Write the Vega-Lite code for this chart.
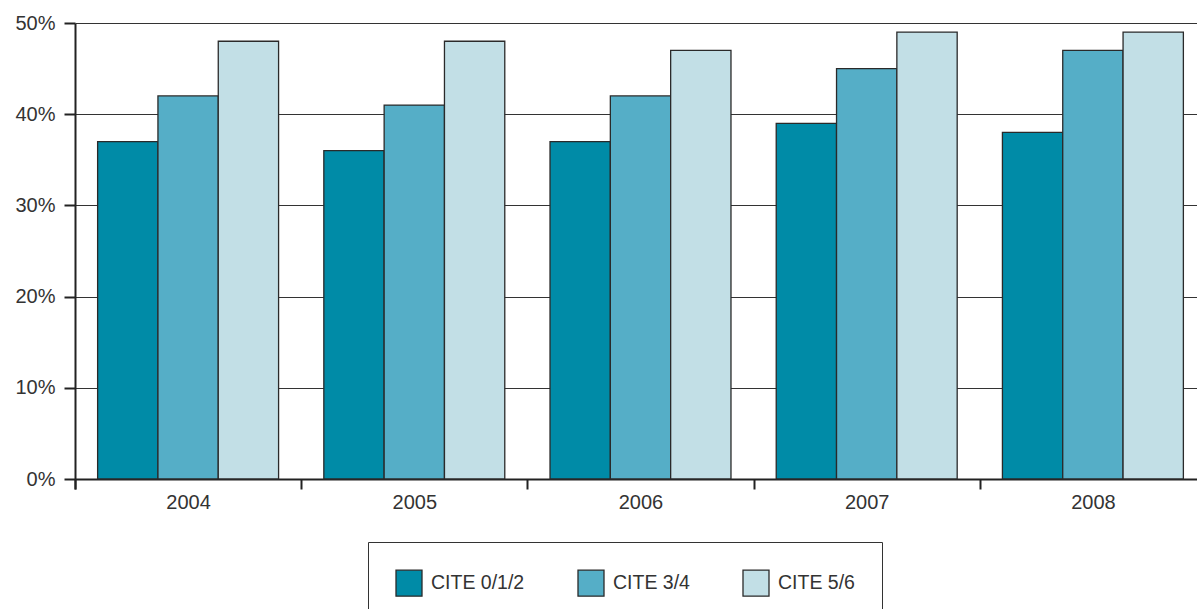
{
  "$schema": "https://vega.github.io/schema/vega-lite/v6.json",
  "autosize": "none",
  "padding": {"left": 75, "top": 23, "right": 0, "bottom": 130},
  "width": 1122,
  "height": 456,
  "background": "white",
  "data": {
    "values": [
      {"year": "2004", "level": "CITE 0/1/2", "value": 0.37},
      {"year": "2004", "level": "CITE 3/4", "value": 0.42},
      {"year": "2004", "level": "CITE 5/6", "value": 0.48},
      {"year": "2005", "level": "CITE 0/1/2", "value": 0.36},
      {"year": "2005", "level": "CITE 3/4", "value": 0.41},
      {"year": "2005", "level": "CITE 5/6", "value": 0.48},
      {"year": "2006", "level": "CITE 0/1/2", "value": 0.37},
      {"year": "2006", "level": "CITE 3/4", "value": 0.42},
      {"year": "2006", "level": "CITE 5/6", "value": 0.47},
      {"year": "2007", "level": "CITE 0/1/2", "value": 0.39},
      {"year": "2007", "level": "CITE 3/4", "value": 0.45},
      {"year": "2007", "level": "CITE 5/6", "value": 0.49},
      {"year": "2008", "level": "CITE 0/1/2", "value": 0.38},
      {"year": "2008", "level": "CITE 3/4", "value": 0.47},
      {"year": "2008", "level": "CITE 5/6", "value": 0.49}
    ]
  },
  "mark": {"type": "bar", "stroke": "#2a2a2a", "strokeWidth": 1.3},
  "encoding": {
    "x": {
      "field": "year",
      "type": "nominal",
      "scale": {"paddingInner": 0.2, "paddingOuter": 0.1, "rangeMax": 1131},
      "axis": {
        "title": null,
        "labelAngle": 0,
        "labelFont": "Liberation Sans",
        "labelFontSize": 20,
        "labelColor": "#333333",
        "labelPadding": 3,
        "labelOffset": 22.6,
        "domainColor": "#222222",
        "domainWidth": 2,
        "tickColor": "#222222",
        "tickWidth": 2,
        "tickSize": 10,
        "bandPosition": 0,
        "tickOffset": -22.6,
        "tickExtra": true,
        "grid": false
      }
    },
    "xOffset": {"field": "level", "type": "nominal", "scale": {"paddingInner": 0, "paddingOuter": 0}},
    "y": {
      "field": "value",
      "type": "quantitative",
      "scale": {"domain": [0, 0.5], "nice": false},
      "axis": {
        "title": null,
        "format": ".0%",
        "values": [0, 0.1, 0.2, 0.3, 0.4, 0.5],
        "labelFont": "Liberation Sans",
        "labelFontSize": 20,
        "labelColor": "#333333",
        "labelPadding": 9,
        "domainColor": "#222222",
        "domainWidth": 2,
        "tickColor": "#222222",
        "tickWidth": 2,
        "tickSize": 11,
        "grid": true,
        "gridColor": "#333333",
        "gridWidth": 1
      }
    },
    "color": {
      "field": "level",
      "type": "nominal",
      "scale": {
        "domain": ["CITE 0/1/2", "CITE 3/4", "CITE 5/6"],
        "range": ["#008BA7", "#55AEC7", "#C2DFE6"]
      },
      "legend": {
        "title": null,
        "orient": "none",
        "direction": "horizontal",
        "legendX": 293,
        "legendY": 519,
        "padding": 27,
        "strokeColor": "#333333",
        "symbolType": "square",
        "symbolSize": 676,
        "symbolStrokeColor": "#2a2a2a",
        "symbolStrokeWidth": 1.3,
        "symbolOpacity": 1,
        "labelFont": "Liberation Sans",
        "labelFontSize": 19.5,
        "labelColor": "#333333",
        "labelOffset": 8,
        "columnPadding": 50
      }
    }
  },
  "config": {"view": {"stroke": null}}
}
